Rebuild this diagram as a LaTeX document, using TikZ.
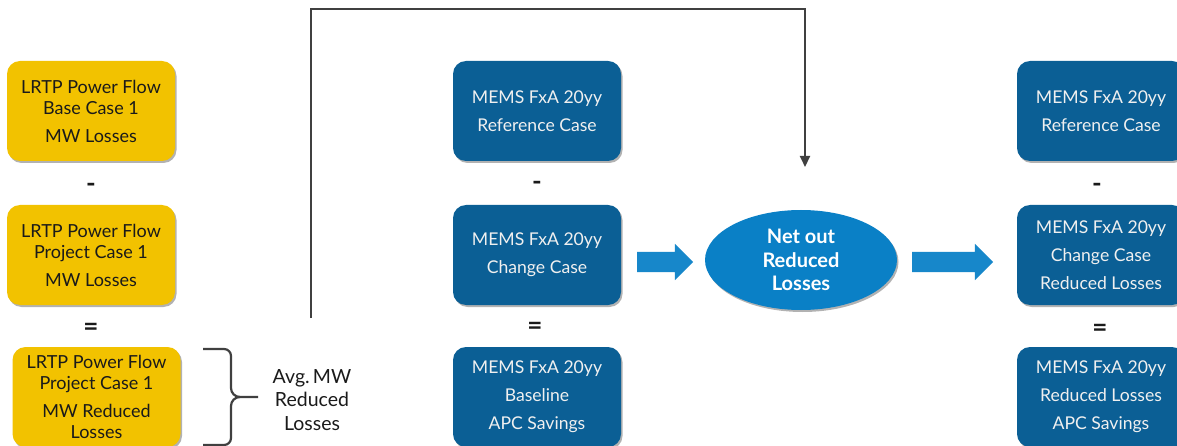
\documentclass[tikz,border=0pt]{standalone}
\usepackage{fontspec}
\setmainfont{Lato}
\usetikzlibrary{shapes.geometric,shapes.arrows,shadows,arrows.meta}
\definecolor{ybox}{HTML}{F2C200}
\definecolor{bbox}{HTML}{0B5F95}
\definecolor{bell}{HTML}{0A80C6}
\definecolor{barrow}{HTML}{1787CA}
\definecolor{lgray}{HTML}{404040}
\definecolor{dtext}{HTML}{1A1A1A}
\tikzset{
  shad/.style={drop shadow={shadow xshift=1.5pt,shadow yshift=-2pt,opacity=0.3,fill=black}},
  yellowbox/.style={shad,fill=ybox,rounded corners=13pt,minimum width=168pt,minimum height=100pt,
    align=center,text=dtext,font=\fontsize{18}{21}\selectfont,inner sep=0pt},
  bluebox/.style={shad,fill=bbox,rounded corners=13pt,minimum width=168pt,minimum height=100pt,
    align=center,text=white!94!black,font=\fontsize{17.6}{28}\selectfont,inner sep=0pt},
  opsign/.style={font=\fontsize{26}{26}\selectfont\bfseries,text=dtext,inner sep=0pt},
  blockarrow/.style={single arrow,fill=barrow,inner xsep=0pt,inner ysep=10pt,
    single arrow head extend=8pt,single arrow tip angle=90,minimum width=36pt},
  connector/.style={draw=lgray,line width=2pt},
  bracestyle/.style={draw=lgray,line width=2.2pt},
}
\begin{document}
\begin{tikzpicture}[x=1pt,y=-1pt]
\useasboundingbox (0,0) rectangle (1177,446);
% left column
\node[yellowbox] (y1) at (91,111) {LRTP Power Flow\\Base Case 1\\[7pt]MW Losses};
\node[opsign] (m1) at (91,188) {-};
\node[yellowbox] (y2) at (91,255) {LRTP Power Flow\\Project Case 1\\[7pt]MW Losses};
\node[opsign] (e1) at (91,329) {=};
\node[yellowbox] (y3) at (96.5,397) {LRTP Power Flow\\Project Case 1\\[7pt]MW Reduced\\Losses};
% brace
\draw[bracestyle,line join=round] (203,349) -- (224,349) to[out=0,in=90] (231,356) -- (231,388)
  to[out=-90,in=180] (240,397) -- (258,397);
\draw[bracestyle,line join=round] (203,445) -- (224,445) to[out=0,in=-90] (231,438) -- (231,406)
  to[out=90,in=180] (240,397);
\node[align=center,text=dtext,font=\fontsize{19.5}{23.5}\selectfont] (avg) at (312,400) {Avg.\,MW\\Reduced\\Losses};
% middle column
\node[bluebox] (b1) at (537,111) {MEMS FxA 20yy\\Reference Case};
\node[opsign] (m2) at (537,186) {-};
\node[bluebox] (b2) at (537,255) {MEMS FxA 20yy\\Change Case};
\node[opsign] (e2) at (535,328) {=};
\node[bluebox] (b3) at (537,397) {MEMS FxA 20yy\\Baseline\\APC Savings};
% ellipse
\node[ellipse,shad,fill=bell,minimum width=192pt,minimum height=100pt,inner sep=0pt,
  align=center,text=white,font=\fontsize{20}{23.5}\selectfont\bfseries] (net) at (801,260)
  {Net out\\Reduced\\Losses};
% block arrows
\node[blockarrow,minimum height=56pt] (a1) at (660,262) {};
\node[blockarrow,minimum height=81pt] (a2) at (947.5,262) {};
% right column
\node[bluebox] (r1) at (1101,111) {MEMS FxA 20yy\\Reference Case};
\node[opsign] (m3) at (1097,188) {-};
\node[bluebox] (r2) at (1101,255) {MEMS FxA 20yy\\Change Case\\Reduced Losses};
\node[opsign] (e3) at (1100,330) {=};
\node[bluebox] (r3) at (1101,397) {MEMS FxA 20yy\\Reduced Losses\\APC Savings};
% connector
\coordinate (cstart) at (311,318);
\coordinate (ctip) at (805,167);
\draw[connector,-{Triangle[width=10pt,length=11pt]}] (cstart) -- (311,9) -- (805,9) -- (ctip);
\end{tikzpicture}
\end{document}
